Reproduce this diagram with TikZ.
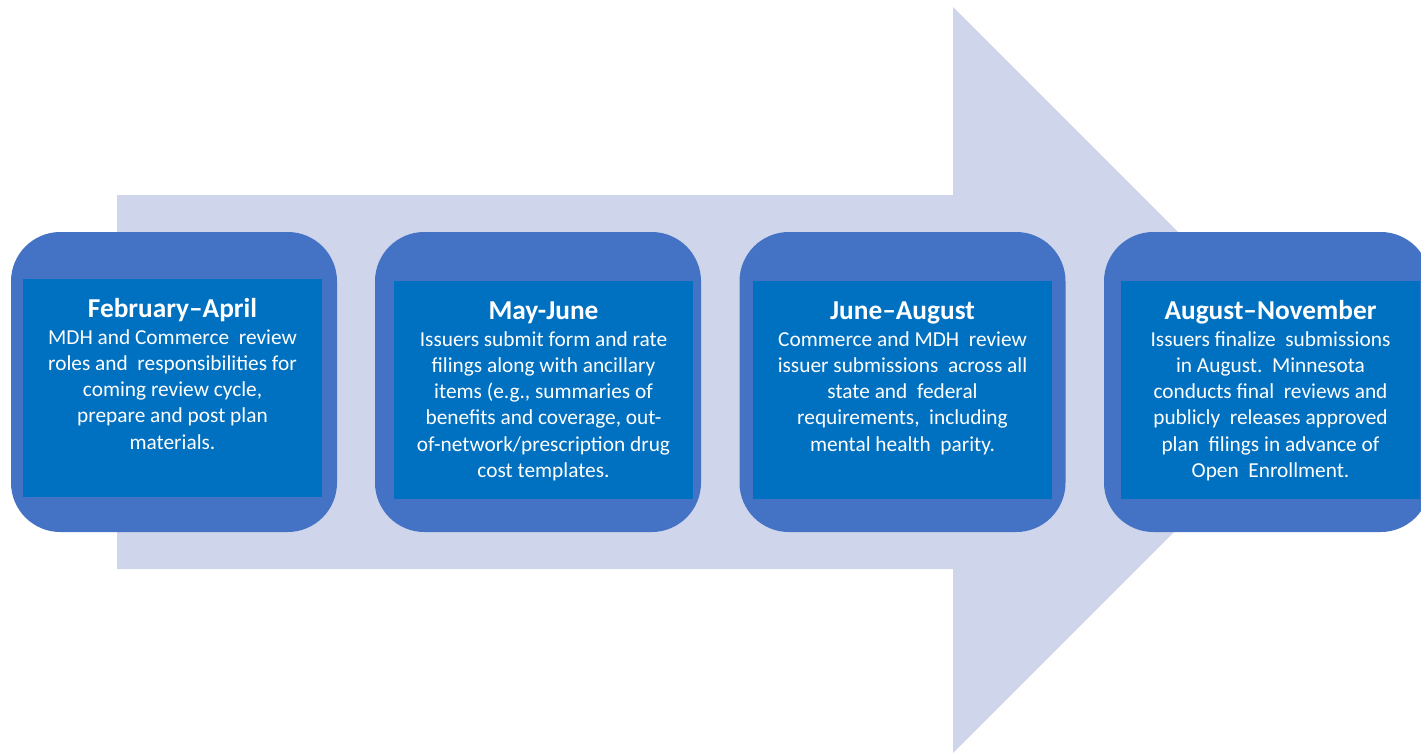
\documentclass[tikz,border=0pt]{standalone}
\usepackage{fontspec}
\setmainfont{Carlito}
\definecolor{arrowfill}{HTML}{CFD5EA}
\definecolor{outerblue}{HTML}{4472C4}
\definecolor{innerblue}{HTML}{0070C0}
\tikzset{
  outerbox/.style={fill=outerblue, draw=none, rounded corners=37pt, minimum width=244.5pt, minimum height=225pt, inner sep=0pt},
  innerbox/.style={fill=innerblue, draw=none, minimum width=224.25pt, minimum height=163.5pt, inner sep=0pt},
  titletext/.style={text=white, anchor=base, inner sep=0pt, font=\fontsize{20.5}{24}\selectfont\bfseries},
  bodytext/.style={text=white, anchor=north, inner sep=0pt, align=center, font=\fontsize{16}{19.6}\selectfont}
}
\begin{document}
\begin{tikzpicture}[x=0.75pt,y=-0.75pt]
\useasboundingbox (0,0) rectangle (1421,754);
\clip (0,0) rectangle (1421,754);
% big arrow
\fill[arrowfill] (117,195) -- (953,195) -- (953,7) -- (1326,380) -- (953,753) -- (953,569) -- (117,569) -- cycle;
% outer boxes
\node[outerbox] (o1) at (174,382) {};
\node[outerbox] (o2) at (538,382) {};
\node[outerbox] (o3) at (902.5,382) {};
\node[outerbox] (o4) at (1267,382) {};
% inner boxes
\node[innerbox] (i1) at (172.5,388) {};
\node[innerbox] (i2) at (543.5,390) {};
\node[innerbox] (i3) at (902.5,390) {};
\node[innerbox] (i4) at (1270.5,390) {};
% titles
\node[titletext] (t1) at (172.5,317) {February–April};
\node[titletext] (t2) at (543.5,319) {May-June};
\node[titletext] (t3) at (902.5,319) {June–August};
\node[titletext] (t4) at (1270.5,319) {August–November};
% bodies
\node[bodytext] (b1) at (172.5,326) {\strut MDH and Commerce\ \ review\\roles and\ \ responsibilities for\\coming review cycle,\\prepare and post plan\\materials.};
\node[bodytext] (b2) at (543.5,328) {\strut Issuers submit form and rate\\filings along with ancillary\\items (e.g., summaries of\\benefits and coverage, out-\\of-network/prescription drug\\cost templates.};
\node[bodytext] (b3) at (902.5,328) {\strut Commerce and MDH\ \ review\\issuer submissions\ \ across all\\state and\ \ federal\\requirements,\ \ including\\mental health\ \ parity.};
\node[bodytext] (b4) at (1270.5,328) {\strut Issuers finalize\ \ submissions\\in August.\ \ Minnesota\\conducts final\ \ reviews and\\publicly\ \ releases approved\\plan\ \ filings in advance of\\Open\ \ Enrollment.};
\end{tikzpicture}
\end{document}
